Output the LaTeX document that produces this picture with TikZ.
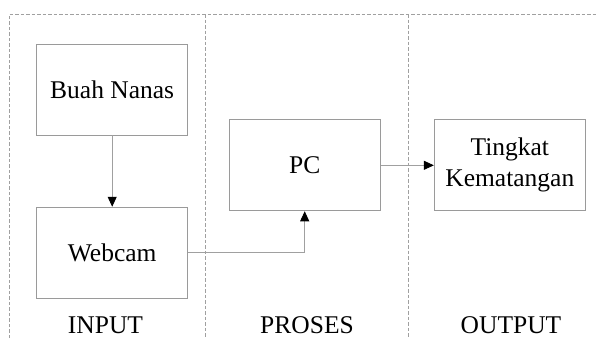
\documentclass[tikz,border=0pt]{standalone}
\usepackage{fontspec}
\setmainfont{Liberation Serif}
\usetikzlibrary{arrows.meta}
\definecolor{boxgray}{HTML}{9A9A9A}
\definecolor{linegray}{HTML}{A0A0A0}
\tikzset{
  blk/.style={draw=boxgray, line width=0.9pt, minimum width=151pt, minimum height=91pt, inner sep=0pt, align=center,
    font=\fontsize{25.5}{31}\selectfont},
  conn/.style={draw=linegray, line width=0.9pt, -{Triangle[length=10pt,width=9pt,color=black]}},
  sep/.style={draw=linegray, line width=0.7pt, dash pattern=on 3.5pt off 2pt},
  lbl/.style={anchor=base, font=\fontsize{25.5}{31}\selectfont}
}
\begin{document}
\begin{tikzpicture}[x=1pt,y=-1pt]
\useasboundingbox (0,0) rectangle (596,338);
\coordinate (tl) at (9,14);
\coordinate (tr) at (596,14);
\coordinate (bl) at (9,338);
\coordinate (t1) at (205.5,14);
\coordinate (b1) at (205.5,338);
\coordinate (t2) at (408,14);
\coordinate (b2) at (408,338);
\draw[sep] (bl) -- (tl) -- (tr);
\draw[sep] (t1) -- (b1);
\draw[sep] (t2) -- (b2);
\node[blk] (buah) at (112.2,89.5) {Buah Nanas};
\node[blk] (webcam) at (112.2,252.7) {Webcam};
\node[blk] (pc) at (304.7,165.3) {PC};
\node[blk] (out) at (509.8,165.3) {Tingkat\\Kematangan};
\draw[conn] (buah) -- (webcam);
\draw[conn] (webcam.east) -| (pc.south);
\draw[conn] (pc) -- (out);
\node[lbl] (in) at (105.5,333) {INPUT};
\node[lbl] (pr) at (307,333) {PROSES};
\node[lbl] (op) at (511,333) {OUTPUT};
\end{tikzpicture}
\end{document}
